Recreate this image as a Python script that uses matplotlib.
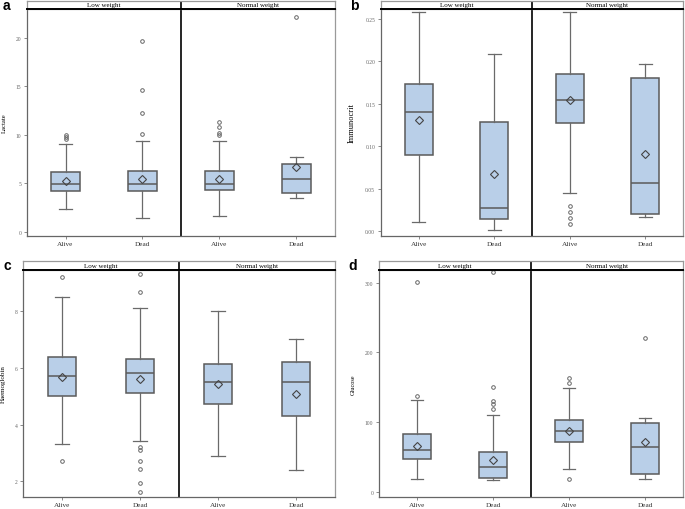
import matplotlib.pyplot as plt

W, H = 685, 510

groups = ['Alive', 'Dead', 'Alive', 'Dead']
strata = ['Low weight', 'Normal weight']

# each entry: (whislo, q1, median, q3, whishi, mean, outliers) for
# Low/Alive, Low/Dead, Normal/Alive, Normal/Dead
lactate = [
    (2.33, 4.16, 4.91, 6.13, 9.04, 5.28, [9.6, 9.8, 10.0]),
    (1.39, 4.16, 4.91, 6.29, 9.34, 5.41, [10.05, 12.25, 14.65, 19.66]),
    (1.59, 4.33, 4.91, 6.29, 9.34, 5.45, [9.98, 10.15, 10.76, 11.34]),
    (3.45, 3.99, 5.45, 6.94, 7.75, 6.70, [22.13]),
]
immunocrit = [
    (0.0106, 0.0895, 0.1408, 0.1735, 0.2575, 0.1305, []),
    (0.0012, 0.0146, 0.0272, 0.1286, 0.2086, 0.0674, []),
    (0.0453, 0.1270, 0.1538, 0.1853, 0.2575, 0.1538, [0.0087, 0.0154, 0.0221, 0.0296]),
    (0.0166, 0.0205, 0.0572, 0.1806, 0.1968, 0.0907, []),
]
haemoglobin = [
    (3.32, 5.01, 5.71, 6.40, 8.49, 5.68, [2.72, 9.20]),
    (3.42, 5.11, 5.81, 6.31, 8.11, 5.61, [1.62, 1.93, 2.42, 2.72, 3.11, 3.21, 8.69, 9.31]),
    (2.91, 4.72, 5.49, 6.15, 8.00, 5.42, []),
    (2.41, 4.31, 5.49, 6.20, 7.01, 5.08, []),
]
glucose = [
    (18.2, 46.4, 59.8, 82.8, 131.6, 66.0, [137.8, 300.5]),
    (17.2, 19.1, 34.9, 56.5, 110.0, 45.5, [119.1, 125.4, 129.5, 149.8, 315.8]),
    (33.0, 70.8, 87.6, 102.4, 148.8, 87.6, [18.7, 156.5, 163.2]),
    (18.2, 24.9, 64.6, 98.1, 105.3, 70.8, [220.6]),
]

# box = (left, right, top, bottom) of plot area in pixels, strip = strip top
panels = [
    dict(letter='a', label='Lactate', lsize=4.8, data=lactate, ylim=(-0.45, 23.0),
         ticks=[0, 5, 10, 15, 20], fmt='{:g}', box=(27, 335, 10, 237), strip=2,
         lab_x=4, let_xy=(3, 10)),
    dict(letter='b', label='Immunocrit', lsize=6.0, data=immunocrit, ylim=(-0.0056, 0.2614),
         ticks=[0, 0.05, 0.10, 0.15, 0.20, 0.25], fmt='{:.2f}', box=(381, 683, 10, 237), strip=2,
         lab_x=352, let_xy=(350, 10)),
    dict(letter='c', label='Haemoglobin', lsize=5.0, data=haemoglobin, ylim=(1.446, 9.458),
         ticks=[2, 4, 6, 8], fmt='{:g}', box=(23, 335, 271, 498), strip=262,
         lab_x=3, let_xy=(4, 270)),
    dict(letter='d', label='Glucose', lsize=4.5, data=glucose, ylim=(-7.6, 318.2),
         ticks=[0, 100, 200, 300], fmt='{:g}', box=(379, 683, 271, 498), strip=262,
         lab_x=353, let_xy=(348, 270)),
]

FILL = '#b9cfe8'
EDGE = '#5a5a5a'
FRAME = '#9a9a9a'
SERIF = 'Liberation Serif'

fig = plt.figure(figsize=(W / 100, H / 100), dpi=100)

for p in panels:
    x0, x1, y0, y1 = p['box']
    ax = fig.add_axes([x0 / W, 1 - y1 / H, (x1 - x0) / W, (y1 - y0) / H])
    stats = []
    for s in p['data']:
        lo, q1, med, q3, hi, mean, fl = s
        stats.append(dict(whislo=lo, q1=q1, med=med, q3=q3, whishi=hi, mean=mean, fliers=fl))
    ax.bxp(stats, positions=[1, 2, 3, 4], widths=0.37, patch_artist=True,
           showmeans=True, capwidths=0.17,
           boxprops=dict(facecolor=FILL, edgecolor=EDGE, linewidth=1.1),
           medianprops=dict(color=EDGE, linewidth=1.1),
           whiskerprops=dict(color='#6a6a6a', linewidth=0.9),
           capprops=dict(color='#6a6a6a', linewidth=0.9),
           meanprops=dict(marker='D', markerfacecolor='none', markeredgecolor='#444444',
                          markersize=4.0, markeredgewidth=0.8),
           flierprops=dict(marker='o', markerfacecolor='none', markeredgecolor='#666666',
                           markersize=2.6, markeredgewidth=0.7))
    ax.set_xlim(0.5, 4.5)
    ax.set_ylim(*p['ylim'])
    ax.axvline(2.5, color='black', linewidth=1.2)
    ax.set_xticks([1, 2, 3, 4])
    ax.set_xticklabels(groups, fontfamily=SERIF, fontsize=5.2, color='#333333')
    ax.set_yticks(p['ticks'])
    ax.set_yticklabels([p['fmt'].format(t) for t in p['ticks']], fontfamily=SERIF,
                       fontsize=4.0, color='#666666')
    ax.tick_params(axis='both', direction='out', length=2.2, width=0.6, color='#777777')
    ax.tick_params(axis='x', pad=1.5)
    ax.tick_params(axis='y', pad=2)
    for sp in ax.spines.values():
        sp.set_color(FRAME)
        sp.set_linewidth(0.9)
    ax.spines['left'].set_color('#666666')
    ax.spines['bottom'].set_color('#666666')
    ax.set_ylabel(p['label'], fontfamily=SERIF, fontsize=p['lsize'])
    ax.yaxis.set_label_coords((p['lab_x'] + 0.45 * p['lsize'] * 1.39 - x0) / (x1 - x0), 0.5)

    # strip with stratum names
    sy = p['strip']
    st = fig.add_axes([x0 / W, 1 - y0 / H, (x1 - x0) / W, (y0 - sy) / H])
    st.set_xlim(0.5, 4.5)
    st.set_ylim(0, 1)
    st.set_xticks([])
    st.set_yticks([])
    for sp in st.spines.values():
        sp.set_color(FRAME)
        sp.set_linewidth(0.9)
    st.spines['bottom'].set_color('black')
    st.spines['bottom'].set_linewidth(1.4)
    st.axvline(2.5, color='black', linewidth=1.2)
    st.text(1.5, 0.5, strata[0], ha='center', va='center', fontfamily=SERIF, fontsize=5)
    st.text(3.5, 0.5, strata[1], ha='center', va='center', fontfamily=SERIF, fontsize=5)

    lx, ly = p['let_xy']
    fig.text(lx / W, 1 - ly / H, p['letter'], fontsize=10, fontweight='bold',
             fontfamily='Liberation Sans', ha='left', va='baseline')

fig.savefig('out.png', dpi=100)
